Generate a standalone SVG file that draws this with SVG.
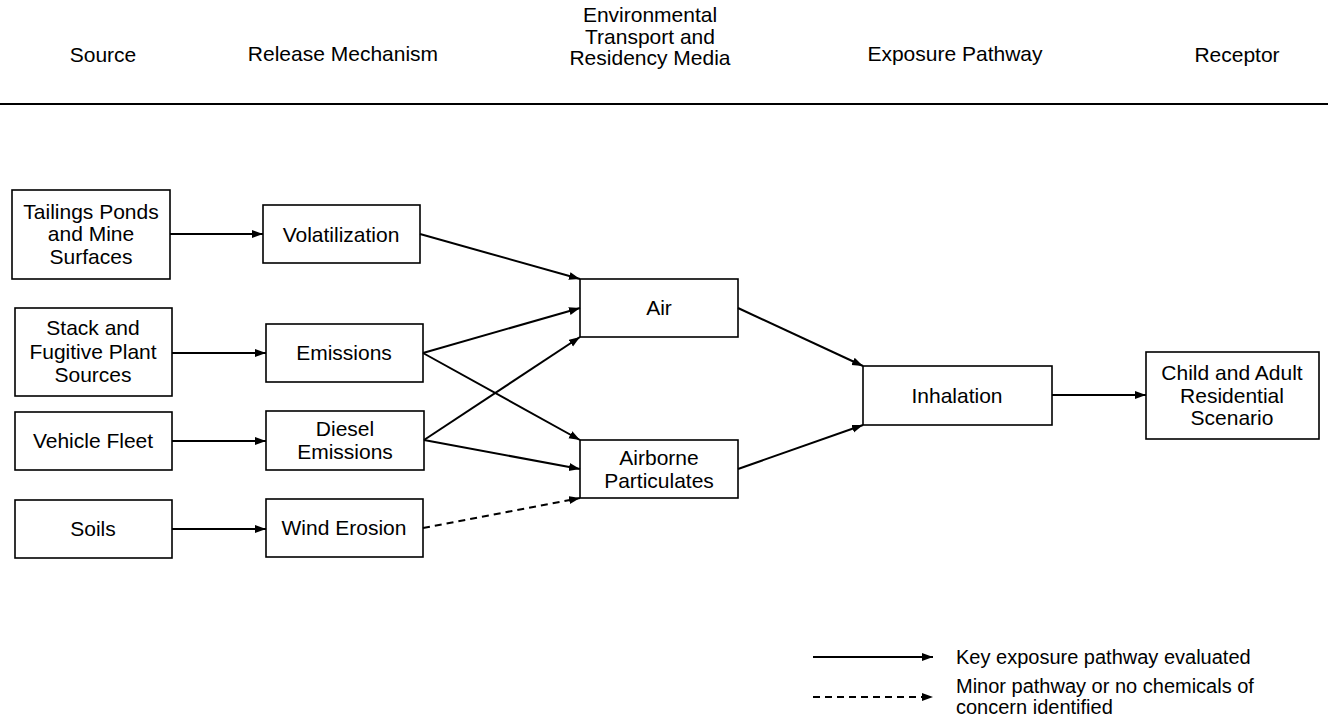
<svg xmlns="http://www.w3.org/2000/svg" width="1328" height="718" viewBox="0 0 1328 718">
<defs>
<marker id="ah" markerUnits="userSpaceOnUse" markerWidth="12" markerHeight="10" refX="11" refY="4" orient="auto">
<path d="M0,0 L11,4 L0,8 Z" fill="#000"/>
</marker>
<style>
text{font-family:"Liberation Sans",Arial,sans-serif;font-size:21px;fill:#000;text-anchor:middle}
.box{fill:#fff;stroke:#000;stroke-width:1.6}
.c{fill:none;stroke:#000;stroke-width:2;marker-end:url(#ah)}
.d{stroke-dasharray:7,5}
.lg{text-anchor:start;font-size:20px}
</style>
</defs>
<g id="header">
<text x="103" y="62">Source</text>
<text x="343" y="61">Release Mechanism</text>
<text x="650" y="22">Environmental</text>
<text x="650" y="43.5">Transport and</text>
<text x="650" y="65">Residency Media</text>
<text x="955" y="61">Exposure Pathway</text>
<text x="1237" y="62">Receptor</text>
<line x1="0" y1="104" x2="1328" y2="104" stroke="#000" stroke-width="2"/>
</g>
<g id="tailings"><rect class="box" x="12" y="190" width="158" height="89"/><text x="91" y="219">Tailings Ponds</text><text x="91" y="241">and Mine</text><text x="91" y="264">Surfaces</text></g>
<g id="stack"><rect class="box" x="15" y="308" width="157" height="88"/><text x="93" y="335">Stack and</text><text x="93" y="359">Fugitive Plant</text><text x="93" y="382">Sources</text></g>
<g id="vehicle"><rect class="box" x="15" y="412" width="157" height="58"/><text x="93" y="448">Vehicle Fleet</text></g>
<g id="soils"><rect class="box" x="15" y="500" width="157" height="58"/><text x="93" y="536">Soils</text></g>
<g id="volatilization"><rect class="box" x="263" y="205" width="157" height="58"/><text x="341" y="242">Volatilization</text></g>
<g id="emissions"><rect class="box" x="266" y="324" width="157" height="58"/><text x="344" y="360">Emissions</text></g>
<g id="diesel"><rect class="box" x="266" y="411" width="158" height="59"/><text x="345" y="436">Diesel</text><text x="345" y="459">Emissions</text></g>
<g id="wind"><rect class="box" x="266" y="499" width="157" height="58"/><text x="344" y="535">Wind Erosion</text></g>
<g id="air"><rect class="box" x="580" y="279" width="158" height="58"/><text x="659" y="315">Air</text></g>
<g id="airborne"><rect class="box" x="580" y="440" width="158" height="58"/><text x="659" y="465">Airborne</text><text x="659" y="488">Particulates</text></g>
<g id="inhalation"><rect class="box" x="863" y="366" width="189" height="59"/><text x="957" y="403">Inhalation</text></g>
<g id="child"><rect class="box" x="1146" y="352" width="173" height="87"/><text x="1232" y="380">Child and Adult</text><text x="1232" y="403">Residential</text><text x="1232" y="425">Scenario</text></g>
<g id="connectors">
<line class="c" x1="170" y1="234" x2="263" y2="234"/>
<line class="c" x1="172" y1="353" x2="266" y2="353"/>
<line class="c" x1="172" y1="441" x2="266" y2="441"/>
<line class="c" x1="172" y1="529" x2="266" y2="529"/>
<line class="c" x1="420" y1="234" x2="580" y2="279"/>
<line class="c" x1="423" y1="353" x2="580" y2="308"/>
<line class="c" x1="423" y1="353" x2="580" y2="440"/>
<line class="c" x1="424" y1="440" x2="580" y2="337"/>
<line class="c" x1="424" y1="440" x2="580" y2="469"/>
<line class="c d" x1="423" y1="528" x2="580" y2="498"/>
<line class="c" x1="738" y1="308" x2="863" y2="366"/>
<line class="c" x1="738" y1="469" x2="863" y2="425"/>
<line class="c" x1="1052" y1="395" x2="1146" y2="395"/>
</g>
<g id="legend">
<line class="c" x1="813" y1="657" x2="933" y2="657"/>
<line class="c d" x1="813" y1="697" x2="933" y2="697"/>
<text class="lg" x="956" y="664">Key exposure pathway evaluated</text>
<text class="lg" x="956" y="693">Minor pathway or no chemicals of</text>
<text class="lg" x="956" y="714">concern identified</text>
</g>
</svg>
